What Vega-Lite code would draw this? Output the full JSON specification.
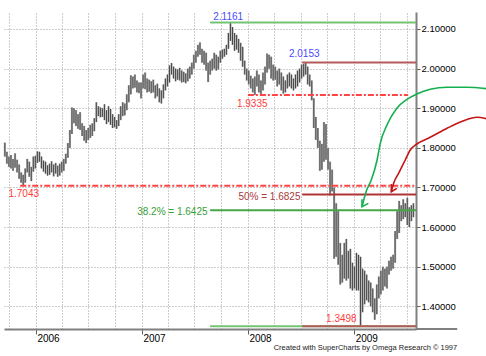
{
  "$schema": "https://vega.github.io/schema/vega-lite/v6.json",
  "autosize": "none",
  "width": 412,
  "height": 317,
  "padding": {"left": 4, "top": 12, "right": 70, "bottom": 27},
  "background": "white",
  "config": {"view": {"stroke": null}, "font": "Liberation Sans"},
  "datasets": {
    "bars": [
      {"d":"2005-09-16","h":1.813,"l":1.778},{"d":"2005-09-23","h":1.790,"l":1.760},{"d":"2005-09-30","h":1.778,"l":1.752},
      {"d":"2005-10-07","h":1.782,"l":1.748},{"d":"2005-10-14","h":1.772,"l":1.742},{"d":"2005-10-21","h":1.786,"l":1.750},
      {"d":"2005-10-28","h":1.770,"l":1.738},{"d":"2005-11-04","h":1.758,"l":1.722},{"d":"2005-11-11","h":1.738,"l":1.712},
      {"d":"2005-11-18","h":1.732,"l":1.7043},{"d":"2005-11-25","h":1.748,"l":1.712},{"d":"2005-12-02","h":1.772,"l":1.738},
      {"d":"2005-12-09","h":1.765,"l":1.727},{"d":"2005-12-16","h":1.752,"l":1.716},{"d":"2005-12-23","h":1.778,"l":1.740},
      {"d":"2005-12-30","h":1.780,"l":1.748},{"d":"2006-01-06","h":1.791,"l":1.762},{"d":"2006-01-13","h":1.790,"l":1.765},
      {"d":"2006-01-20","h":1.778,"l":1.748},{"d":"2006-01-27","h":1.768,"l":1.740},{"d":"2006-02-03","h":1.765,"l":1.735},
      {"d":"2006-02-10","h":1.756,"l":1.730},{"d":"2006-02-17","h":1.760,"l":1.732},{"d":"2006-02-24","h":1.766,"l":1.738},
      {"d":"2006-03-03","h":1.758,"l":1.728},{"d":"2006-03-10","h":1.762,"l":1.735},{"d":"2006-03-17","h":1.755,"l":1.727},
      {"d":"2006-03-24","h":1.760,"l":1.730},{"d":"2006-03-31","h":1.765,"l":1.738},{"d":"2006-04-07","h":1.772,"l":1.742},
      {"d":"2006-04-14","h":1.785,"l":1.760},{"d":"2006-04-21","h":1.812,"l":1.775},{"d":"2006-04-28","h":1.845,"l":1.800},
      {"d":"2006-05-05","h":1.902,"l":1.835},{"d":"2006-05-12","h":1.900,"l":1.862},{"d":"2006-05-19","h":1.895,"l":1.855},
      {"d":"2006-05-26","h":1.885,"l":1.848},{"d":"2006-06-02","h":1.890,"l":1.845},{"d":"2006-06-09","h":1.862,"l":1.830},
      {"d":"2006-06-16","h":1.855,"l":1.818},{"d":"2006-06-23","h":1.845,"l":1.812},{"d":"2006-06-30","h":1.850,"l":1.820},
      {"d":"2006-07-07","h":1.858,"l":1.825},{"d":"2006-07-14","h":1.862,"l":1.830},{"d":"2006-07-21","h":1.875,"l":1.842},
      {"d":"2006-07-28","h":1.915,"l":1.865},{"d":"2006-08-04","h":1.905,"l":1.880},{"d":"2006-08-11","h":1.902,"l":1.877},
      {"d":"2006-08-18","h":1.900,"l":1.878},{"d":"2006-08-25","h":1.910,"l":1.870},{"d":"2006-09-01","h":1.895,"l":1.860},
      {"d":"2006-09-08","h":1.905,"l":1.865},{"d":"2006-09-15","h":1.898,"l":1.858},{"d":"2006-09-22","h":1.885,"l":1.850},
      {"d":"2006-09-29","h":1.878,"l":1.852},{"d":"2006-10-06","h":1.870,"l":1.848},{"d":"2006-10-13","h":1.885,"l":1.855},
      {"d":"2006-10-20","h":1.905,"l":1.870},{"d":"2006-10-27","h":1.915,"l":1.880},{"d":"2006-11-03","h":1.912,"l":1.882},
      {"d":"2006-11-10","h":1.935,"l":1.895},{"d":"2006-11-17","h":1.958,"l":1.915},{"d":"2006-11-24","h":1.983,"l":1.935},
      {"d":"2006-12-01","h":1.980,"l":1.950},{"d":"2006-12-08","h":1.985,"l":1.952},{"d":"2006-12-15","h":1.970,"l":1.940},
      {"d":"2006-12-22","h":1.965,"l":1.938},{"d":"2006-12-29","h":1.965,"l":1.925},{"d":"2007-01-05","h":1.985,"l":1.950},
      {"d":"2007-01-12","h":1.990,"l":1.948},{"d":"2007-01-19","h":1.975,"l":1.940},{"d":"2007-01-26","h":1.972,"l":1.942},
      {"d":"2007-02-02","h":1.968,"l":1.938},{"d":"2007-02-09","h":1.972,"l":1.940},{"d":"2007-02-16","h":1.958,"l":1.925},
      {"d":"2007-02-23","h":1.962,"l":1.930},{"d":"2007-03-02","h":1.950,"l":1.915},{"d":"2007-03-09","h":1.945,"l":1.912},
      {"d":"2007-03-16","h":1.960,"l":1.925},{"d":"2007-03-23","h":1.975,"l":1.945},{"d":"2007-03-30","h":1.985,"l":1.955},
      {"d":"2007-04-06","h":2.008,"l":1.965},{"d":"2007-04-13","h":2.014,"l":1.985},{"d":"2007-04-20","h":2.005,"l":1.975},
      {"d":"2007-04-27","h":2.000,"l":1.968},{"d":"2007-05-04","h":1.998,"l":1.972},{"d":"2007-05-11","h":2.002,"l":1.970},
      {"d":"2007-05-18","h":1.995,"l":1.965},{"d":"2007-05-25","h":1.992,"l":1.966},{"d":"2007-06-01","h":1.988,"l":1.963},
      {"d":"2007-06-08","h":2.000,"l":1.968},{"d":"2007-06-15","h":2.005,"l":1.975},{"d":"2007-06-22","h":2.015,"l":1.985},
      {"d":"2007-06-29","h":2.035,"l":2.000},{"d":"2007-07-06","h":2.045,"l":2.015},{"d":"2007-07-13","h":2.060,"l":2.030},
      {"d":"2007-07-20","h":2.066,"l":2.035},{"d":"2007-07-27","h":2.050,"l":2.015},{"d":"2007-08-03","h":2.045,"l":2.010},
      {"d":"2007-08-10","h":2.040,"l":1.995},{"d":"2007-08-17","h":2.015,"l":1.966},{"d":"2007-08-24","h":2.020,"l":1.985},
      {"d":"2007-08-31","h":2.025,"l":1.995},{"d":"2007-09-07","h":2.040,"l":2.000},{"d":"2007-09-14","h":2.035,"l":1.995},
      {"d":"2007-09-21","h":2.030,"l":1.998},{"d":"2007-09-28","h":2.045,"l":2.015},{"d":"2007-10-05","h":2.048,"l":2.025},
      {"d":"2007-10-12","h":2.050,"l":2.030},{"d":"2007-10-19","h":2.060,"l":2.035},{"d":"2007-10-26","h":2.090,"l":2.050},
      {"d":"2007-11-02","h":2.1161,"l":2.070},{"d":"2007-11-09","h":2.105,"l":2.060},{"d":"2007-11-16","h":2.090,"l":2.045},
      {"d":"2007-11-23","h":2.085,"l":2.048},{"d":"2007-11-30","h":2.075,"l":2.040},{"d":"2007-12-07","h":2.065,"l":2.020},
      {"d":"2007-12-14","h":2.055,"l":2.005},{"d":"2007-12-21","h":2.020,"l":1.985},{"d":"2007-12-28","h":2.000,"l":1.970},
      {"d":"2008-01-04","h":1.995,"l":1.960},{"d":"2008-01-11","h":1.982,"l":1.950},{"d":"2008-01-18","h":1.975,"l":1.940},
      {"d":"2008-01-25","h":1.980,"l":1.9335},{"d":"2008-02-01","h":1.995,"l":1.955},{"d":"2008-02-08","h":1.985,"l":1.940},
      {"d":"2008-02-15","h":1.970,"l":1.935},{"d":"2008-02-22","h":1.990,"l":1.945},{"d":"2008-02-29","h":2.005,"l":1.960},
      {"d":"2008-03-07","h":2.038,"l":1.990},{"d":"2008-03-14","h":2.035,"l":2.000},{"d":"2008-03-21","h":2.030,"l":1.975},
      {"d":"2008-03-28","h":2.010,"l":1.970},{"d":"2008-04-04","h":2.005,"l":1.972},{"d":"2008-04-11","h":1.995,"l":1.955},
      {"d":"2008-04-18","h":2.000,"l":1.960},{"d":"2008-04-25","h":1.990,"l":1.945},{"d":"2008-05-02","h":1.980,"l":1.937},
      {"d":"2008-05-09","h":1.970,"l":1.940},{"d":"2008-05-16","h":1.985,"l":1.950},{"d":"2008-05-23","h":1.990,"l":1.955},
      {"d":"2008-05-30","h":1.985,"l":1.950},{"d":"2008-06-06","h":1.975,"l":1.945},{"d":"2008-06-13","h":1.985,"l":1.950},
      {"d":"2008-06-20","h":1.995,"l":1.955},{"d":"2008-06-27","h":2.000,"l":1.965},{"d":"2008-07-04","h":2.010,"l":1.975},
      {"d":"2008-07-11","h":2.012,"l":1.980},{"d":"2008-07-18","h":2.0153,"l":1.985},{"d":"2008-07-25","h":2.005,"l":1.960},
      {"d":"2008-08-01","h":1.985,"l":1.955},{"d":"2008-08-08","h":1.970,"l":1.920},{"d":"2008-08-15","h":1.925,"l":1.850},
      {"d":"2008-08-22","h":1.878,"l":1.820},{"d":"2008-08-29","h":1.850,"l":1.800},{"d":"2008-09-05","h":1.818,"l":1.742},
      {"d":"2008-09-12","h":1.810,"l":1.745},{"d":"2008-09-19","h":1.865,"l":1.765},{"d":"2008-09-26","h":1.860,"l":1.770},
      {"d":"2008-10-03","h":1.800,"l":1.745},{"d":"2008-10-10","h":1.765,"l":1.680},{"d":"2008-10-17","h":1.745,"l":1.690},
      {"d":"2008-10-24","h":1.700,"l":1.520},{"d":"2008-10-31","h":1.660,"l":1.525},{"d":"2008-11-07","h":1.640,"l":1.505},
      {"d":"2008-11-14","h":1.560,"l":1.455},{"d":"2008-11-21","h":1.530,"l":1.460},{"d":"2008-11-28","h":1.560,"l":1.470},
      {"d":"2008-12-05","h":1.570,"l":1.465},{"d":"2008-12-12","h":1.540,"l":1.470},{"d":"2008-12-19","h":1.545,"l":1.445},
      {"d":"2008-12-26","h":1.510,"l":1.440},{"d":"2009-01-02","h":1.500,"l":1.445},{"d":"2009-01-09","h":1.535,"l":1.440},
      {"d":"2009-01-16","h":1.530,"l":1.440},{"d":"2009-01-23","h":1.525,"l":1.3498},{"d":"2009-01-30","h":1.495,"l":1.385},
      {"d":"2009-02-06","h":1.490,"l":1.405},{"d":"2009-02-13","h":1.480,"l":1.415},{"d":"2009-02-20","h":1.465,"l":1.410},
      {"d":"2009-02-27","h":1.460,"l":1.400},{"d":"2009-03-06","h":1.445,"l":1.385},{"d":"2009-03-13","h":1.420,"l":1.366},
      {"d":"2009-03-20","h":1.455,"l":1.380},{"d":"2009-03-27","h":1.475,"l":1.420},{"d":"2009-04-03","h":1.490,"l":1.430},
      {"d":"2009-04-10","h":1.500,"l":1.440},{"d":"2009-04-17","h":1.495,"l":1.450},{"d":"2009-04-24","h":1.500,"l":1.445},
      {"d":"2009-05-01","h":1.515,"l":1.480},{"d":"2009-05-08","h":1.525,"l":1.490},{"d":"2009-05-15","h":1.530,"l":1.495},
      {"d":"2009-05-22","h":1.590,"l":1.510},{"d":"2009-05-29","h":1.640,"l":1.570},{"d":"2009-06-05","h":1.666,"l":1.585},
      {"d":"2009-06-12","h":1.655,"l":1.615},{"d":"2009-06-19","h":1.670,"l":1.620},{"d":"2009-06-26","h":1.660,"l":1.625},
      {"d":"2009-07-03","h":1.674,"l":1.605},{"d":"2009-07-10","h":1.650,"l":1.600},{"d":"2009-07-17","h":1.655,"l":1.615},
      {"d":"2009-07-24","h":1.660,"l":1.625}
    ],
    "levels": [
      {"start":"2007-08-24","end":"2009-08-02","price":2.1161,"kind":"high"},
      {"start":"2008-07-06","end":"2009-08-02","price":2.0153,"kind":"high2"},
      {"start":"2008-01-01","end":"2009-07-06","price":1.9335,"kind":"support"},
      {"start":"2005-11-08","end":"2009-08-02","price":1.7043,"kind":"support"},
      {"start":"2008-07-06","end":"2009-08-02","price":1.6825,"kind":"fib50"},
      {"start":"2007-08-24","end":"2009-08-02","price":1.6425,"kind":"fib382"},
      {"start":"2007-08-24","end":"2009-08-02","price":1.3498,"kind":"high"},
      {"start":"2008-07-06","end":"2009-08-02","price":1.3498,"kind":"high2"}
    ],
    "priceLabels": [
      {"text":"2.1161","d":"2007-10-25","p":2.1227,"k":"blue"},
      {"text":"2.0153","d":"2008-07-13","p":2.0301,"k":"blue"},
      {"text":"1.9335","d":"2008-01-16","p":1.9038,"k":"red"},
      {"text":"1.7043","d":"2005-11-20","p":1.6766,"k":"red"},
      {"text":"1.3498","d":"2008-11-18","p":1.3610,"k":"red"}
    ],
    "fibLabels": [
      {"text":"50% = 1.6825","d":"2008-06-30","p":1.6683,"k":"darkred"},
      {"text":"38.2% = 1.6425","d":"2007-08-15","p":1.6304,"k":"green"}
    ],
    "curves": [
      {"s":"g","d":"2009-01-28","p":1.6514},{"s":"g","d":"2009-02-13","p":1.6935},{"s":"g","d":"2009-03-01","p":1.7188},
      {"s":"g","d":"2009-03-21","p":1.7693},{"s":"g","d":"2009-04-01","p":1.8114},{"s":"g","d":"2009-04-24","p":1.8576},
      {"s":"g","d":"2009-05-28","p":1.8998},{"s":"g","d":"2009-07-02","p":1.9225},{"s":"g","d":"2009-08-05","p":1.9359},
      {"s":"g","d":"2009-09-20","p":1.9477},{"s":"g","d":"2009-11-17","p":1.9528},{"s":"g","d":"2010-01-25","p":1.9528},
      {"s":"g","d":"2010-04-01","p":1.9493},
      {"s":"r","d":"2009-05-09","p":1.6892},{"s":"r","d":"2009-05-17","p":1.7104},{"s":"r","d":"2009-06-03","p":1.7357},
      {"s":"r","d":"2009-06-26","p":1.7693},{"s":"r","d":"2009-07-13","p":1.7945},{"s":"r","d":"2009-08-05","p":1.8097},
      {"s":"r","d":"2009-09-20","p":1.8266},{"s":"r","d":"2009-11-17","p":1.8493},{"s":"r","d":"2010-01-13","p":1.8685},
      {"s":"r","d":"2010-02-28","p":1.8771},{"s":"r","d":"2010-04-01","p":1.8735}
    ],
    "heads": [
      {"s":"g","o":1,"d":"2009-01-28","p":1.6700},{"s":"g","o":2,"d":"2009-01-28","p":1.6514},{"s":"g","o":3,"d":"2009-02-19","p":1.6599},
      {"s":"r","o":1,"d":"2009-05-09","p":1.7087},{"s":"r","o":2,"d":"2009-05-09","p":1.6892},{"s":"r","o":3,"d":"2009-05-28","p":1.6978}
    ],
    "axisExt": [{"d":"2009-08-02","d2":"2009-12-22","p":1.3427}],
    "notes": [{"text":"Created with SuperCharts by Omega Research © 1997","d":"2009-12-22","p":1.2896}]
  },
  "resolve": {
    "axis": {"x": "independent"},
    "scale": {"color": "independent", "strokeWidth": "independent", "strokeDash": "independent"}
  },
  "layer": [
    {
      "data": {"name": "bars"},
      "mark": {"type": "rule", "strokeWidth": 2.2, "color": "#b0b0b0", "clip": false},
      "encoding": {
        "x": {"field": "d", "type": "temporal",
          "scale": {"type": "utc", "nice": false, "domain": [1126569600000, 1249171200000]},
          "axis": {
            "orient": "top", "title": null,
            "values": [1128124800000, 1136073600000, 1143849600000, 1151712000000, 1159660800000,
                       1167609600000, 1175385600000, 1183248000000, 1191196800000,
                       1199145600000, 1207008000000, 1214870400000, 1222819200000,
                       1230768000000, 1238544000000, 1246406400000],
            "labels": false, "ticks": false, "domain": false,
            "grid": true, "gridColor": "#9c9c9c", "gridDash": [1, 2], "gridWidth": 1
          }
        },
        "y": {"field": "l", "type": "quantitative",
          "scale": {"domain": [1.3427, 2.1429], "nice": false, "zero": false},
          "axis": {
            "orient": "right", "title": null,
            "values": [1.4, 1.5, 1.6, 1.7, 1.8, 1.9, 2.0, 2.1],
            "format": ".5f",
            "labelFont": "Liberation Sans", "labelFontSize": 9.5, "labelColor": "#000000", "labelPadding": 1,
            "tickSize": 4, "tickColor": "#606060",
            "domain": true, "domainColor": "#808080", "domainWidth": 2,
            "grid": true, "gridColor": "#9c9c9c", "gridDash": [1, 2], "gridWidth": 1
          }
        },
        "y2": {"field": "h"}
      }
    },
    {
      "data": {"name": "bars"},
      "mark": {"type": "rule", "strokeWidth": 1, "color": "#484848", "clip": false},
      "encoding": {
        "x": {"field": "d", "type": "temporal",
          "axis": {
            "orient": "bottom", "title": null,
            "values": [1136073600000, 1167609600000, 1199145600000, 1230768000000],
            "format": "%Y", "formatType": "utc",
            "labelAlign": "left", "labelOffset": 1, "labelBaseline": "alphabetic", "labelPadding": 7,
            "labelFont": "Liberation Sans", "labelFontSize": 10, "labelColor": "#000000",
            "labelFlush": false, "labelOverlap": false,
            "tickSize": 5, "tickColor": "#606060",
            "domain": true, "domainColor": "#808080", "domainWidth": 2,
            "grid": false
          }
        },
        "y": {"field": "l", "type": "quantitative"},
        "y2": {"field": "h"}
      }
    },
    {
      "data": {"name": "levels"},
      "mark": {"type": "rule", "clip": false},
      "encoding": {
        "x": {"field": "start", "type": "temporal", "axis": null},
        "x2": {"field": "end"},
        "y": {"field": "price", "type": "quantitative"},
        "color": {"field": "kind", "type": "nominal", "legend": null,
          "scale": {"domain": ["high", "high2", "support", "fib50", "fib382"], "range": ["#74c474", "#b45a5a", "#ff4444", "#b03434", "#44a844"]}},
        "strokeWidth": {"field": "kind", "type": "nominal", "legend": null,
          "scale": {"domain": ["high", "high2", "support", "fib50", "fib382"], "range": [2, 2, 1.5, 1.5, 1.5]}},
        "strokeDash": {"field": "kind", "type": "nominal", "legend": null,
          "scale": {"domain": ["high", "high2", "support", "fib50", "fib382"], "range": [[1, 0], [1, 0], [6, 2, 2, 2], [1, 0], [1, 0]]}}
      }
    },
    {
      "data": {"name": "priceLabels"},
      "mark": {"type": "text", "align": "center", "baseline": "alphabetic", "font": "Liberation Sans", "fontSize": 10, "clip": false},
      "encoding": {
        "x": {"field": "d", "type": "temporal", "axis": null},
        "y": {"field": "p", "type": "quantitative"},
        "text": {"field": "text"},
        "color": {"field": "k", "type": "nominal", "legend": null,
          "scale": {"domain": ["blue", "red"], "range": ["#4a4aff", "#ff3c3c"]}}
      }
    },
    {
      "data": {"name": "fibLabels"},
      "mark": {"type": "text", "align": "right", "baseline": "alphabetic", "font": "Liberation Sans", "fontSize": 10, "clip": false},
      "encoding": {
        "x": {"field": "d", "type": "temporal", "axis": null},
        "y": {"field": "p", "type": "quantitative"},
        "text": {"field": "text"},
        "color": {"field": "k", "type": "nominal", "legend": null,
          "scale": {"domain": ["darkred", "green"], "range": ["#a83c3c", "#38a038"]}}
      }
    },
    {
      "data": {"name": "curves"},
      "mark": {"type": "line", "interpolate": "monotone", "strokeWidth": 1.6, "clip": false},
      "encoding": {
        "x": {"field": "d", "type": "temporal", "axis": null},
        "y": {"field": "p", "type": "quantitative"},
        "color": {"field": "s", "type": "nominal", "legend": null,
          "scale": {"domain": ["g", "r"], "range": ["#12b04e", "#c41414"]}}
      }
    },
    {
      "data": {"name": "heads"},
      "mark": {"type": "line", "strokeWidth": 1.6, "clip": false},
      "encoding": {
        "x": {"field": "d", "type": "temporal", "axis": null},
        "y": {"field": "p", "type": "quantitative"},
        "order": {"field": "o", "type": "quantitative"},
        "color": {"field": "s", "type": "nominal", "legend": null,
          "scale": {"domain": ["g", "r"], "range": ["#12b04e", "#c41414"]}}
      }
    },
    {
      "data": {"name": "axisExt"},
      "mark": {"type": "rule", "strokeWidth": 2, "color": "#808080", "clip": false},
      "encoding": {
        "x": {"field": "d", "type": "temporal", "axis": null},
        "x2": {"field": "d2"},
        "y": {"field": "p", "type": "quantitative"}
      }
    },
    {
      "data": {"name": "notes"},
      "mark": {"type": "text", "align": "right", "baseline": "alphabetic", "font": "Liberation Sans", "fontSize": 7.5, "color": "#1a1a1a", "clip": false},
      "encoding": {
        "x": {"field": "d", "type": "temporal", "axis": null},
        "y": {"field": "p", "type": "quantitative"},
        "text": {"field": "text"}
      }
    }
  ]
}
